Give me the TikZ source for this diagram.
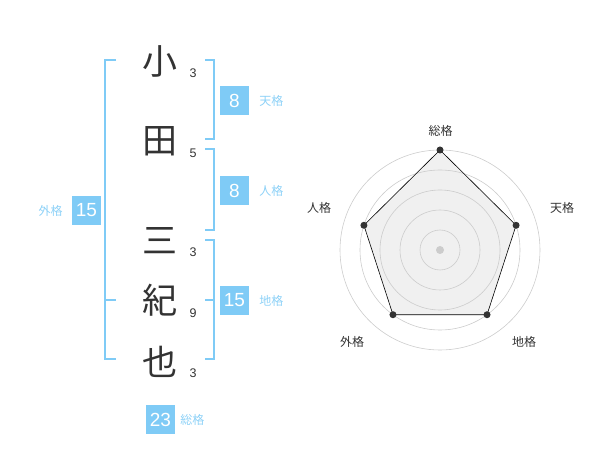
\documentclass[tikz,border=0pt]{standalone}
\usepackage{fontspec}
\setmainfont{Liberation Sans}
\newfontfamily\jpfont{Noto Sans CJK JP}
\usetikzlibrary{positioning, calc}
\definecolor{skyblue}{HTML}{7FCBF6}
\definecolor{skylabel}{HTML}{8DD1F7}
\definecolor{inkgray}{HTML}{333333}
\definecolor{ringgray}{HTML}{CCCCCC}
\definecolor{areafill}{HTML}{F0F0F0}

\begin{document}
\begin{tikzpicture}[
  x=1pt, y=-1pt,
  kanji/.style={font=\jpfont\fontsize{35}{35}\selectfont, text=inkgray, inner sep=0pt},
  strokes/.style={font=\fontsize{12.5}{12.5}\selectfont, text=inkgray, inner sep=0pt},
  score/.style={fill=skyblue, text=white, minimum size=29pt, inner sep=0pt,
                font=\fontsize{19}{19}\selectfont},
  kaku/.style={font=\jpfont\fontsize{12}{12}\selectfont, text=skylabel, inner sep=0pt},
  bracket/.style={draw=skyblue, line width=2pt},
  axislabel/.style={font=\jpfont\fontsize{12}{12}\selectfont, text=inkgray, inner sep=0pt},
  ring/.style={draw=ringgray, line width=0.6pt},
  dot/.style={circle, fill=inkgray, inner sep=0pt, minimum size=7pt},
]
  \useasboundingbox (0,0) rectangle (600,470);

  % Name characters and stroke counts
  \node[kanji] (ko)   at (160,61)  {小};
  \node[kanji] (ta)   at (160,141) {田};
  \node[kanji] (mi)   at (160,241) {三};
  \node[kanji] (ki)   at (160,300) {紀};
  \node[kanji] (ya)   at (160,362) {也};
  \node[strokes] (ko n) at (193,73)  {3};
  \node[strokes] (ta n) at (193,153) {5};
  \node[strokes] (mi n) at (193,252) {3};
  \node[strokes] (ki n) at (193,313) {9};
  \node[strokes] (ya n) at (193,373) {3};

  % Brackets
  \coordinate (gai top) at (105,60);
  \coordinate (gai bot) at (105,359);
  \draw[bracket] ([xshift=11pt]gai top) -- (gai top) -- (gai bot) -- ([xshift=11pt]gai bot);
  \draw[bracket] (105,300) -- (116,300);

  \coordinate (ten top) at (214,60);
  \coordinate (ten bot) at (214,139);
  \draw[bracket] ([xshift=-9pt]ten top) -- (ten top) -- (ten bot) -- ([xshift=-9pt]ten bot);

  \coordinate (jin top) at (214,149);
  \coordinate (jin bot) at (214,230);
  \draw[bracket] ([xshift=-9pt]jin top) -- (jin top) -- (jin bot) -- ([xshift=-9pt]jin bot);

  \coordinate (chi top) at (214,240);
  \coordinate (chi bot) at (214,359);
  \draw[bracket] ([xshift=-9pt]chi top) -- (chi top) -- (chi bot) -- ([xshift=-9pt]chi bot);
  \draw[bracket] (205,300) -- (214,300);

  % Scores
  \node[score] (ten) at (234.5,100.5) {8};
  \node[kaku, right=10pt of ten] {天格};
  \node[score] (jin) at (234.5,190.5) {8};
  \node[kaku, right=10pt of jin] {人格};
  \node[score] (chi) at (234.5,300.5) {15};
  \node[kaku, right=10pt of chi] {地格};
  \node[score] (gai) at (86.5,210.5) {15};
  \node[kaku, left=9pt of gai] {外格};
  \node[score] (sou) at (160.5,419.5) {23};
  \node[kaku, right=5pt of sou] {総格};

  % Radar chart
  \coordinate (c) at (440,250);
  \coordinate (p sou) at ($(c)+(-90:100)$);
  \coordinate (p ten) at ($(c)+(-18:80)$);
  \coordinate (p chi) at ($(c)+(54:80)$);
  \coordinate (p gai) at ($(c)+(126:80)$);
  \coordinate (p jin) at ($(c)+(198:80)$);
  \fill[areafill] (p sou) -- (p ten) -- (p chi) -- (p gai) -- (p jin) -- cycle;
  \foreach \r in {20,40,...,100}
    \draw[ring] (c) circle[radius=\r];
  \draw[black, line width=0.6pt] (p sou) -- (p ten) -- (p chi) -- (p gai) -- (p jin) -- cycle;
  \fill[ringgray] (c) circle[radius=4];
  \foreach \p in {sou,ten,chi,gai,jin}
    \node[dot] at (p \p) {};

  \node[axislabel] (l sou) at (440.5,130.5) {総格};
  \node[axislabel] (l ten) at (562,208)   {天格};
  \node[axislabel] (l chi) at (524,342)   {地格};
  \node[axislabel] (l gai) at (352,342)   {外格};
  \node[axislabel] (l jin) at (319,208)   {人格};
\end{tikzpicture}
\end{document}
